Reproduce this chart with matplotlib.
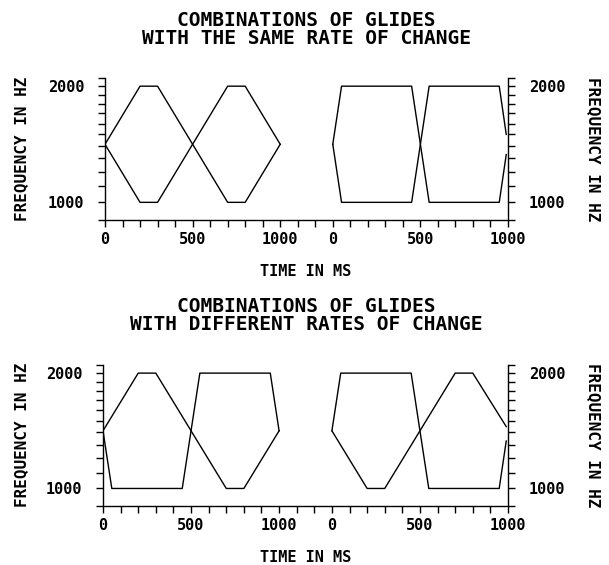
import matplotlib
matplotlib.use("Agg")
import matplotlib.pyplot as plt
from matplotlib.ticker import NullLocator, FixedLocator

# glide data: time in ms, frequency in Hz (each panel has its own 0-1000 ms)
same_left_t = [0, 200, 300, 700, 800, 1000]
same_left_up = [1414, 2000, 2000, 1000, 1000, 1414]
same_left_down = [1414, 1000, 1000, 2000, 2000, 1414]
same_right_t = [0, 50, 450, 550, 950, 990]
same_right_up = [1414, 2000, 2000, 1000, 1000, 1330]
same_right_down = [1414, 1000, 1000, 2000, 2000, 1500]

diff_left_slow_t = [0, 200, 300, 700, 800, 1000]
diff_left_slow = [1414, 2000, 2000, 1000, 1000, 1414]
diff_left_fast_t = [0, 50, 450, 550, 950, 1000]
diff_left_fast = [1414, 1000, 1000, 2000, 2000, 1414]
diff_right_fast_t = [0, 50, 450, 550, 950, 990]
diff_right_fast = [1414, 2000, 2000, 1000, 1000, 1330]
diff_right_slow_t = [0, 200, 300, 700, 800, 990]
diff_right_slow = [1414, 1000, 1000, 2000, 2000, 1450]

titles = [["COMBINATIONS OF GLIDES", "WITH THE SAME RATE OF CHANGE"],
          ["COMBINATIONS OF GLIDES", "WITH DIFFERENT RATES OF CHANGE"]]
x_ticks = list(range(0, 2301, 100))
x_label_pos = [0, 500, 1000, 1300, 1800, 2300]
x_label_txt = ["0", "500", "1000", "0", "500", "1000"]
y_ticks = list(range(900, 2101, 100))

offset = 1300  # right panel starts 300 ms after the left one ends

plt.rcParams['font.family'] = ['DejaVu Sans Mono']
plt.rcParams['font.weight'] = 'bold'

W, H = 609, 565
fig = plt.figure(figsize=(W / 100, H / 100), dpi=100)


def px(x0, y_top, x1, y_bot):
    return [x0 / W, 1 - y_bot / H, (x1 - x0) / W, (y_bot - y_top) / H]


ax1 = fig.add_axes(px(105, 78, 508, 220))
ax2 = fig.add_axes(px(103, 365, 508, 506))

lw = 1.0
ax1.plot(same_left_t, same_left_up, 'k-', lw=lw)
ax1.plot(same_left_t, same_left_down, 'k-', lw=lw)
ax1.plot([t + offset for t in same_right_t], same_right_up, 'k-', lw=lw)
ax1.plot([t + offset for t in same_right_t], same_right_down, 'k-', lw=lw)

ax2.plot(diff_left_slow_t, diff_left_slow, 'k-', lw=lw)
ax2.plot(diff_left_fast_t, diff_left_fast, 'k-', lw=lw)
ax2.plot([t + offset for t in diff_right_fast_t], diff_right_fast, 'k-', lw=lw)
ax2.plot([t + offset for t in diff_right_slow_t], diff_right_slow, 'k-', lw=lw)

for ax in (ax1, ax2):
    ax.set_yscale('log')
    ax.set_ylim(900, 2100)
    ax.set_xlim(0, 2300)
    ax.yaxis.set_major_locator(FixedLocator(y_ticks))
    ax.set_yticklabels(["1000" if v == 1000 else "2000" if v == 2000 else "" for v in y_ticks])
    ax.yaxis.set_minor_locator(NullLocator())
    ax.set_xticks(x_ticks)
    ax.set_xticklabels([x_label_txt[x_label_pos.index(v)] if v in x_label_pos else "" for v in x_ticks])
    ax.xaxis.set_minor_locator(NullLocator())
    ax.spines['top'].set_visible(False)
    for s in ('left', 'right', 'bottom'):
        ax.spines[s].set_linewidth(1.0)
    ax.tick_params(axis='y', which='both', direction='out', length=5, width=1,
                   left=True, right=True, labelleft=True, labelright=True,
                   labelsize=11, pad=10)
    ax.tick_params(axis='x', direction='out', length=5, width=1, labelsize=11, pad=4)
    for lab in ax.get_xticklabels() + ax.get_yticklabels():
        lab.set_fontweight('bold')

# titles and axis labels
for (l1, l2), y1, y2 in [(titles[0], 21, 39), (titles[1], 307, 325)]:
    fig.text(306 / W, 1 - y1 / H, l1, ha='center', va='center', fontsize=14, fontweight='bold')
    fig.text(306 / W, 1 - y2 / H, l2, ha='center', va='center', fontsize=14, fontweight='bold')

for yc, xl in [(149, 272), (435, 558)]:
    fig.text(22 / W, 1 - yc / H, "FREQUENCY IN HZ", rotation=90, ha='center', va='center',
             fontsize=11.5, fontweight='bold')
    fig.text(593 / W, 1 - yc / H, "FREQUENCY IN HZ", rotation=270, ha='center', va='center',
             fontsize=11.5, fontweight='bold')
    fig.text(306 / W, 1 - xl / H, "TIME IN MS", ha='center', va='center',
             fontsize=11, fontweight='bold')

fig.savefig("out.png", dpi=100)
